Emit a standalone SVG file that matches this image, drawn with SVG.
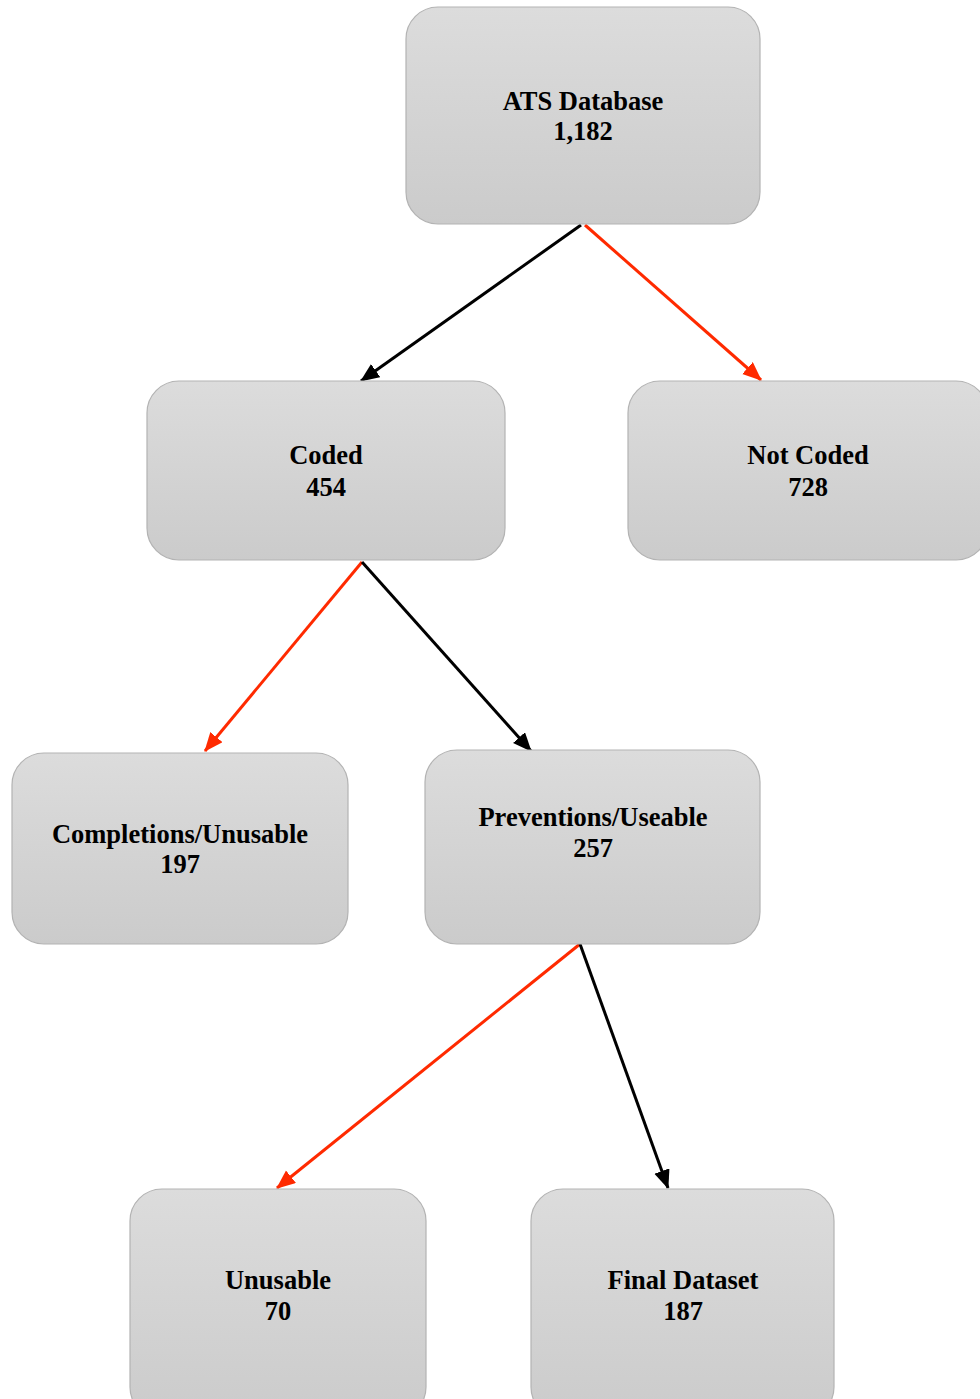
<svg xmlns="http://www.w3.org/2000/svg" width="980" height="1399" viewBox="0 0 980 1399">
<style>
.box{fill:url(#g);stroke:#b3b3b3;stroke-width:1.2}
.t{font-family:"Liberation Serif","Times New Roman",serif;font-weight:bold;font-size:26.5px;fill:#000;text-anchor:middle}
.k{stroke:#000;stroke-width:3;fill:none}
.r{stroke:#ff2a00;stroke-width:3;fill:none}
</style>
<defs>
<linearGradient id="g" x1="0" y1="0" x2="0" y2="1">
<stop offset="0" stop-color="#dcdcdc"/>
<stop offset="1" stop-color="#cbcbcb"/>
</linearGradient>
<marker id="ak" markerUnits="userSpaceOnUse" markerWidth="20" markerHeight="18" refX="18" refY="8" orient="auto"><path d="M0,0 L19,8 L0,16 Z" fill="#000"/></marker>
<marker id="ar" markerUnits="userSpaceOnUse" markerWidth="20" markerHeight="18" refX="18" refY="8" orient="auto"><path d="M0,0 L19,8 L0,16 Z" fill="#ff2a00"/></marker>
</defs>
<g id="connectors">
<line class="k" x1="581" y1="225" x2="361" y2="381" marker-end="url(#ak)"/>
<line class="r" x1="585" y1="225" x2="761" y2="380" marker-end="url(#ar)"/>
<line class="r" x1="362" y1="562" x2="205" y2="751" marker-end="url(#ar)"/>
<line class="k" x1="362" y1="562" x2="531" y2="751" marker-end="url(#ak)"/>
<line class="r" x1="580" y1="944" x2="277" y2="1188" marker-end="url(#ar)"/>
<line class="k" x1="580" y1="944" x2="668" y2="1188" marker-end="url(#ak)"/>
</g>
<g id="ats"><rect class="box" x="406" y="7" width="354" height="217" rx="32"/><text class="t" x="583" y="110">ATS Database</text><text class="t" x="583" y="140">1,182</text></g>
<g id="coded"><rect class="box" x="147" y="381" width="358" height="179" rx="32"/><text class="t" x="326" y="464">Coded</text><text class="t" x="326" y="496">454</text></g>
<g id="notcoded"><rect class="box" x="628" y="381" width="360" height="179" rx="32"/><text class="t" x="808" y="464">Not Coded</text><text class="t" x="808" y="496">728</text></g>
<g id="completions"><rect class="box" x="12" y="753" width="336" height="191" rx="32"/><text class="t" x="180" y="843">Completions/Unusable</text><text class="t" x="180" y="873">197</text></g>
<g id="preventions"><rect class="box" x="425" y="750" width="335" height="194" rx="32"/><text class="t" x="593" y="826">Preventions/Useable</text><text class="t" x="593" y="857">257</text></g>
<g id="unusable"><rect class="box" x="130" y="1189" width="296" height="230" rx="32"/><text class="t" x="278" y="1289">Unusable</text><text class="t" x="278" y="1320">70</text></g>
<g id="final"><rect class="box" x="531" y="1189" width="303" height="230" rx="32"/><text class="t" x="683" y="1289">Final Dataset</text><text class="t" x="683" y="1320">187</text></g>
</svg>
